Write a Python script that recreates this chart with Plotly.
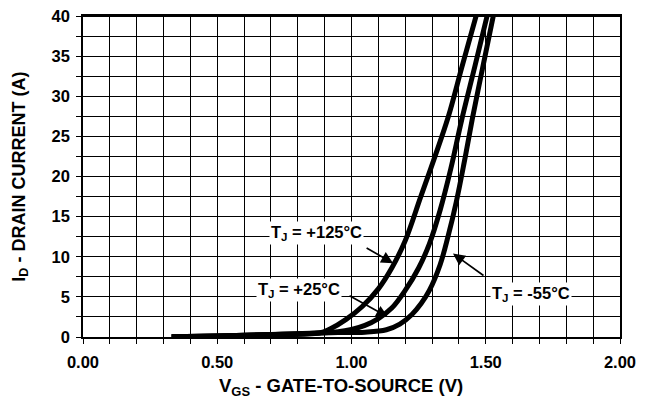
import plotly.graph_objects as go

# Common low-current tail (all three curves overlap here)
v_tail = [0.33, 0.50, 0.70, 0.88]
i_tail = [0.02, 0.12, 0.30, 0.50]

# T_J = +125 C
v_125 = v_tail + [0.92, 0.98, 1.04, 1.10, 1.15, 1.20, 1.258, 1.311, 1.361, 1.41, 1.464]
i_125 = i_tail + [1.0, 2.2, 3.8, 6.0, 8.6, 12.0, 17.5, 22.5, 27.5, 33.5, 40.0]

# T_J = +25 C
v_25 = v_tail + [0.95, 1.00, 1.05, 1.10, 1.15, 1.20, 1.25, 1.29, 1.33, 1.37, 1.41, 1.46, 1.505]
i_25 = i_tail + [0.65, 0.95, 1.45, 2.3, 3.6, 5.8, 8.6, 11.6, 15.8, 21.0, 27.0, 33.8, 40.0]

# T_J = -55 C
v_m55 = v_tail + [0.95, 1.05, 1.13, 1.18, 1.225, 1.26, 1.29, 1.33, 1.36, 1.39, 1.42, 1.45, 1.49, 1.528]
i_m55 = i_tail + [0.55, 0.6, 0.9, 1.6, 2.8, 4.2, 5.8, 9.0, 12.6, 16.8, 21.8, 27.2, 33.8, 40.0]

x_ticks = [0.0, 0.5, 1.0, 1.5, 2.0]
y_ticks = [0, 5, 10, 15, 20, 25, 30, 35, 40]

FONT = "Liberation Sans, Arial, sans-serif"

fig = go.Figure()
for v, i in [(v_125, i_125), (v_25, i_25), (v_m55, i_m55)]:
    fig.add_trace(go.Scatter(x=v, y=i, mode="lines",
                             line=dict(color="black", width=5, shape="spline", smoothing=1.0),
                             showlegend=False, hoverinfo="skip"))

axis_common = dict(
    showline=True, linecolor="black", linewidth=1.5, mirror=True,
    showgrid=True, gridcolor="black", gridwidth=1.4,
    ticks="outside", ticklen=5, tickcolor="black", tickwidth=1.4,
    zeroline=False, automargin=False, ticklabeloverflow="allow",
    tickfont=dict(family=FONT, size=16.5, color="black", weight="bold"),
)

fig.update_xaxes(range=[0, 2], tickvals=x_ticks, tickformat=".2f",
                 minor=dict(dtick=0.1, showgrid=True, gridcolor="black", gridwidth=1.4,
                            ticks="outside", ticklen=5, tickcolor="black", tickwidth=1.4),
                 ticklabelstandoff=4,
                 **axis_common)
fig.update_yaxes(range=[0, 40], tickvals=y_ticks,
                 minor=dict(dtick=2.5, showgrid=True, gridcolor="black", gridwidth=1.4,
                            ticks="outside", ticklen=5, tickcolor="black", tickwidth=1.4),
                 ticklabelstandoff=3,
                 **axis_common)

# explicit top frame edge
fig.add_shape(type="line", xref="paper", yref="paper", x0=0, x1=1, y0=1, y1=1,
              line=dict(color="black", width=2.2), layer="above")

title_font = dict(family=FONT, size=18.5, color="black")
fig.add_annotation(xref="paper", yref="paper", x=0.480, y=-0.155,
                   text="<b>V<sub>GS</sub> - GATE-TO-SOURCE (V)</b>", showarrow=False,
                   font=title_font, xanchor="center", yanchor="middle")
fig.add_annotation(xref="paper", yref="paper", x=-0.117, y=0.50, textangle=-90,
                   text="<b>I<sub>D</sub> - DRAIN CURRENT (A)</b>", showarrow=False,
                   font=dict(family=FONT, size=18, color="black"),
                   xanchor="center", yanchor="middle")

lab_font = dict(family=FONT, size=16.5, color="black")
labels = [
    ("<b>T<sub>J</sub> = +125°C</b>", 0.871, 12.9),
    ("<b>T<sub>J</sub> = +25°C</b>", 0.804, 5.8),
    ("<b>T<sub>J</sub> = -55°C</b>", 1.668, 5.3),
]
for txt, x, y in labels:
    fig.add_annotation(x=x, y=y, text=txt, showarrow=False, font=lab_font,
                       bgcolor="white", borderpad=1)

arrows = [(1.155, 9.2, -28, -16), (1.136, 2.5, -40, -22), (1.378, 10.4, 32, 23)]
for x, y, ax, ay in arrows:
    fig.add_annotation(x=x, y=y, ax=ax, ay=ay, text="", showarrow=True,
                       arrowhead=2, arrowsize=1.4, arrowwidth=1.7, arrowcolor="black",
                       standoff=0)

# The page body has an 8px default margin, so the figure is sized to fit the
# 652x402 window with that offset.
fig.update_layout(width=644, height=394, plot_bgcolor="white", paper_bgcolor="white",
                  margin=dict(l=75, r=32, t=8, b=65))
fig.write_html("out.html")
